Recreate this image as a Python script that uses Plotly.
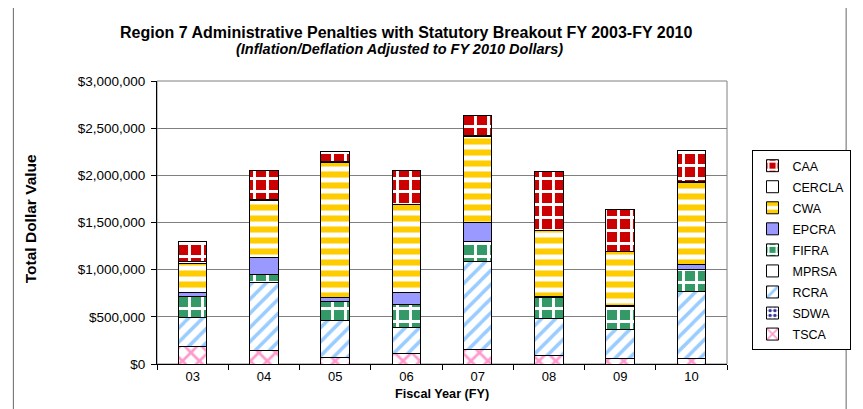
import plotly.graph_objects as go

years = ["03", "04", "05", "06", "07", "08", "09", "10"]

TSCA = [185000, 141000, 67000, 113000, 159000, 88000, 56000, 56000]
SDWA = [0, 0, 0, 0, 0, 0, 0, 0]
RCRA = [303000, 721000, 389000, 269000, 930000, 392000, 315000, 715000]
MPRSA = [0, 0, 0, 0, 0, 0, 0, 0]
FIFRA = [226000, 89000, 209000, 247000, 208000, 230000, 236000, 229000]
EPCRA = [46000, 180000, 38000, 127000, 205000, 8000, 8000, 57000]
CWA = [307000, 600000, 1431000, 930000, 908000, 699000, 580000, 869000]
CERCLA = [15000, 10000, 10000, 10000, 10000, 0, 0, 10000]
CAA = [218000, 308000, 114000, 353000, 216000, 626000, 448000, 325000]

ytick_vals = [0, 500000, 1000000, 1500000, 2000000, 2500000, 3000000]
ytick_text = ["$0", "$500,000", "$1,000,000", "$1,500,000", "$2,000,000", "$2,500,000", "$3,000,000"]

FONT = "Liberation Sans, Arial, sans-serif"

series = [
    ("TSCA", TSCA, dict(shape="x", fgcolor="#FF99CC", bgcolor="white", size=12, solidity=0.4)),
    ("SDWA", SDWA, dict(shape=".", fgcolor="#333399", bgcolor="white", size=6, solidity=0.4)),
    ("RCRA", RCRA, dict(shape="/", fgcolor="#99CCFF", bgcolor="white", size=10, solidity=0.35)),
    ("MPRSA", MPRSA, dict(shape="", fgcolor="white", bgcolor="white")),
    ("FIFRA", FIFRA, dict(shape="+", fgcolor="white", bgcolor="#339966", size=13, solidity=0.4)),
    ("EPCRA", EPCRA, dict(shape="", fgcolor="#9999FF", bgcolor="#9999FF")),
    ("CWA", CWA, dict(shape="-", fgcolor="#FFCC00", bgcolor="white", size=11, solidity=0.55)),
    ("CERCLA", CERCLA, dict(shape="", fgcolor="white", bgcolor="white")),
    ("CAA", CAA, dict(shape="+", fgcolor="white", bgcolor="#CC0000", size=13, solidity=0.4)),
]

solid = {"EPCRA": "#9999FF", "MPRSA": "white", "CERCLA": "white"}

fig = go.Figure()
for i, (name, vals, pat) in enumerate(series):
    marker = dict(line=dict(color="black", width=1))
    if name in solid:
        marker["color"] = solid[name]
    else:
        marker["color"] = pat["bgcolor"]
        marker["pattern"] = dict(fillmode="replace", **pat)
    fig.add_trace(go.Bar(x=years, y=vals, name=name, marker=marker,
                         legendgroup=name, legendrank=1000 - 10 * i))

# page has an 8px body margin, so the figure is 8px smaller and shifted
fig.update_layout(
    width=855, height=401,
    barmode="stack", bargap=0.6,
    margin=dict(l=149, r=131, t=73, b=45),
    paper_bgcolor="white", plot_bgcolor="white",
    font=dict(family=FONT, size=13, color="black"),
    showlegend=True,
    legend=dict(
        x=1.043, y=0.756, xanchor="left", yanchor="top",
        bordercolor="black", borderwidth=1, bgcolor="white",
        traceorder="grouped", tracegroupgap=1.8,
        font=dict(family=FONT, size=12.5, color="black"),
    ),
    xaxis=dict(
        type="category", showline=True, linecolor="black", linewidth=1,
        ticks="outside", ticklen=5, tickcolor="black", tickson="boundaries",
        showgrid=False, tickfont=dict(size=13), fixedrange=True,
    ),
    yaxis=dict(
        range=[0, 3000000], tickvals=ytick_vals, ticktext=ytick_text,
        showline=True, linecolor="black", linewidth=1,
        ticks="outside", ticklen=5, tickcolor="black", ticklabelstandoff=3,
        showgrid=True, gridcolor="#808080", gridwidth=1,
        zeroline=False, tickfont=dict(size=13.5),
    ),
    annotations=[
        dict(text="<b>Region 7 Administrative Penalties with Statutory Breakout FY 2003-FY 2010</b>",
             xref="paper", yref="paper", x=0.4365, y=1.173, showarrow=False,
             font=dict(size=16, family=FONT), xanchor="center", yanchor="middle"),
        dict(text="<b><i>(Inflation/Deflation Adjusted to FY 2010 Dollars)</i></b>",
             xref="paper", yref="paper", x=0.426, y=1.113, showarrow=False,
             font=dict(size=14.5, family=FONT), xanchor="center", yanchor="middle"),
        dict(text="<b>Total Dollar Value</b>", textangle=-90,
             xref="paper", yref="paper", x=-0.2226, y=0.512, showarrow=False,
             font=dict(size=15.5, family=FONT), xanchor="center", yanchor="middle"),
        dict(text="<b>Fiscal Year (FY)</b>",
             xref="paper", yref="paper", x=0.5, y=-0.106, showarrow=False,
             font=dict(size=12.7, family=FONT), xanchor="center", yanchor="middle"),
    ],
    shapes=[
        dict(type="rect", xref="paper", yref="paper", x0=0, x1=1, y0=0, y1=1,
             line=dict(color="#808080", width=1), layer="below"),
        dict(type="rect", xref="paper", yref="paper", x0=-0.252, x1=1.209, y0=-0.3, y1=1.4,
             line=dict(color="#666666", width=1), layer="below"),
    ],
)

fig.write_html("out.html")
